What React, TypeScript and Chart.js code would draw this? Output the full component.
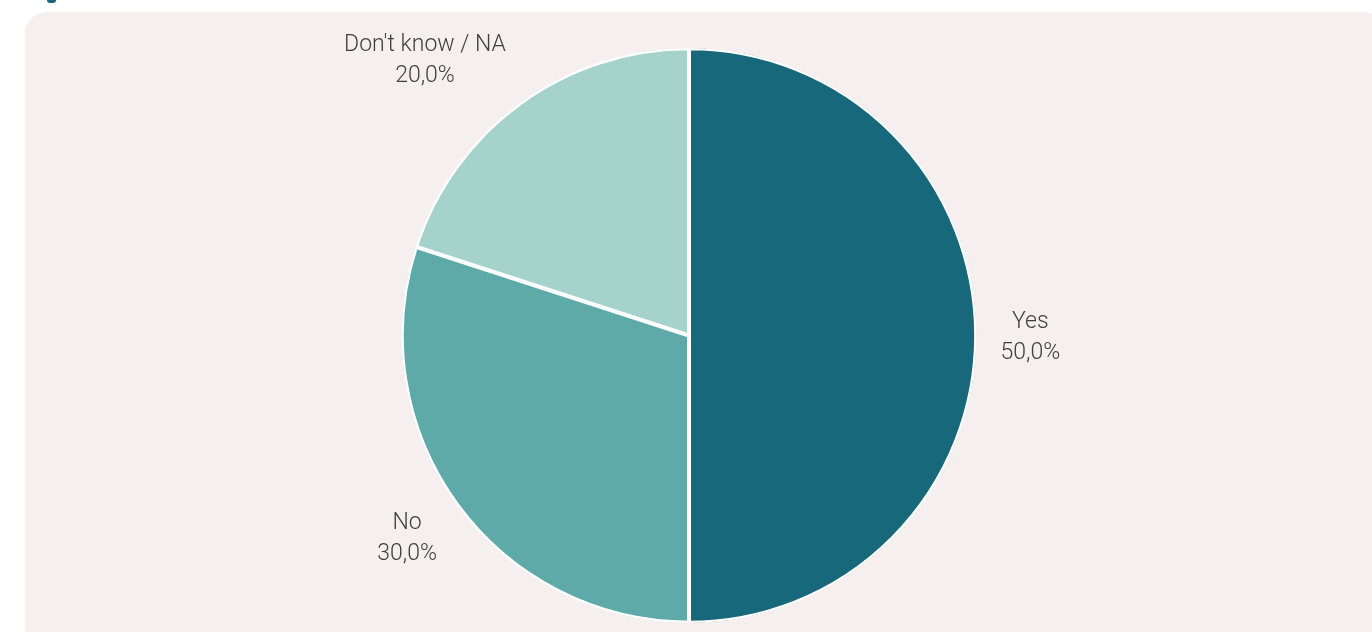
import React, { useEffect, useRef } from "react";
import { Chart, registerables } from "chart.js";

Chart.register(...registerables);

const categories = ["Yes", "No", "Don't know / NA"];
const values = [50.0, 30.0, 20.0];
const sliceColors = ["#16687a", "#5eaaa8", "#a5d3cc"];

const fmt = (v: number) => v.toFixed(1).replace(".", ",") + "%";

const outsideLabels = {
  id: "outsideLabels",
  afterDatasetsDraw(chart: any) {
    const ctx = chart.ctx;
    const meta = chart.getDatasetMeta(0);
    ctx.save();
    ctx.font = "300 23px Roboto, 'Liberation Sans', sans-serif";
    ctx.fillStyle = "#404040";
    ctx.textBaseline = "middle";
    const lineH = 31;
    meta.data.forEach((arc: any, i: number) => {
      const p = arc.getProps(["startAngle", "endAngle", "outerRadius", "x", "y"], true);
      const mid = (p.startAngle + p.endAngle) / 2;
      const c = Math.cos(mid);
      const s = Math.sin(mid);
      const d = p.outerRadius + 24;
      const ax = p.x + c * d;
      const ay = p.y + s * d;
      const lines = [categories[i], fmt(values[i])];
      const w = Math.max(...lines.map((l) => ctx.measureText(l).width));
      const h = lineH * lines.length;
      let cx: number;
      if (Math.abs(c) < 0.15) cx = ax;
      else if (c > 0) cx = ax + w / 2;
      else cx = ax - w / 2;
      const cy = ay + (s * h) / 2 + 2;
      ctx.textAlign = "center";
      lines.forEach((l, k) => {
        ctx.fillText(l, cx, cy - h / 2 + lineH / 2 + k * lineH);
      });
    });
    ctx.restore();
  },
};

export default function App() {
  const ref = useRef<HTMLCanvasElement>(null);
  useEffect(() => {
    document.body.style.margin = "0";
    const chart = new Chart(ref.current!, {
      type: "pie",
      data: {
        labels: categories,
        datasets: [
          {
            data: values,
            backgroundColor: sliceColors,
            borderColor: "#ffffff",
            borderWidth: 2,
            borderAlign: "inner",
          } as any,
        ],
      },
      options: {
        animation: false,
        responsive: false,
        maintainAspectRatio: false,
        layout: { padding: { top: 48, bottom: 9, left: 100, right: 94 } },
        plugins: {
          legend: { display: false },
          tooltip: { enabled: false },
        },
      },
      plugins: [outsideLabels],
    });
    return () => chart.destroy();
  }, []);
  return (
    <div style={{ position: "relative", width: 1372, height: 632, overflow: "hidden", background: "#ffffff" }}>
      <div
        style={{
          position: "absolute",
          left: 47,
          top: -6,
          width: 9,
          height: 9,
          borderRadius: 3,
          background: "#16687a",
        }}
      />
      <div
        style={{
          position: "absolute",
          left: 25,
          top: 12,
          width: 1360,
          height: 660,
          borderRadius: 22,
          background: "#f5efef",
        }}
      />
      <canvas
        ref={ref}
        width={1372}
        height={632}
        style={{ position: "absolute", left: 0, top: 0, width: 1372, height: 632 }}
      />
    </div>
  );
}
